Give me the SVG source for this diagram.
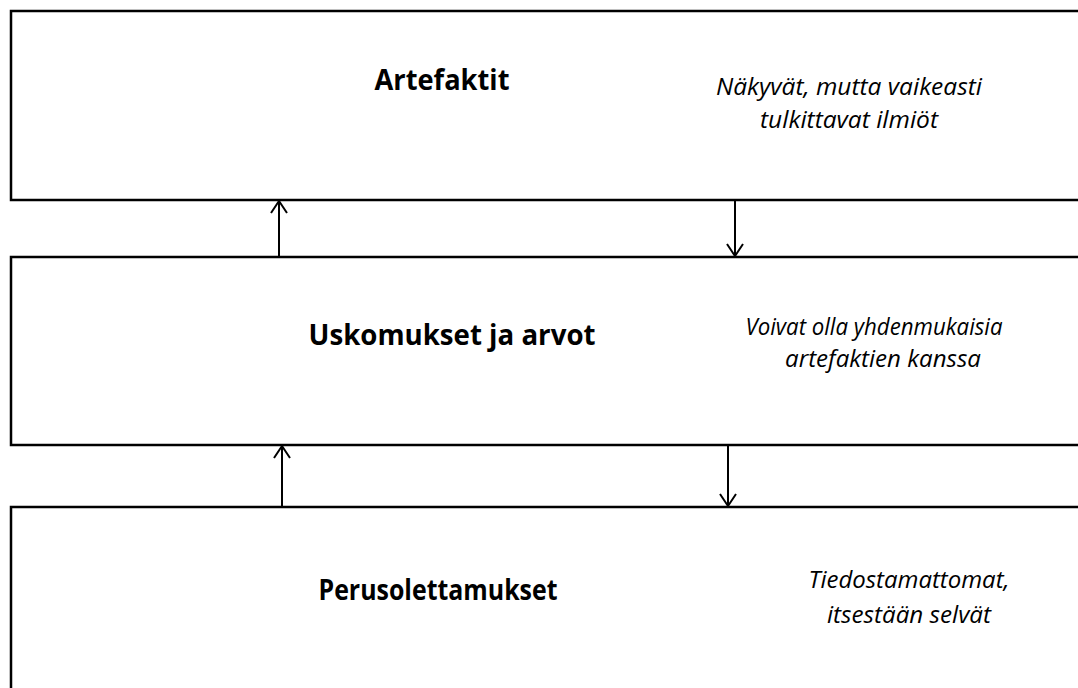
<svg xmlns="http://www.w3.org/2000/svg" width="1078" height="688" viewBox="0 0 1078 688">
<style>
.box{fill:#fff;stroke:#000;stroke-width:2.5}
.title{font-family:"Open Sans","Liberation Sans",sans-serif;font-weight:bold;font-size:29px;text-anchor:middle;fill:#000}
.note{font-family:"Open Sans","Liberation Sans",sans-serif;font-style:italic;font-size:23px;text-anchor:middle;fill:#000}
.conn{stroke:#000;stroke-width:2;fill:none}
.head{stroke:#000;stroke-width:2;fill:none}
</style>
<rect width="1078" height="688" fill="#fff"/>
<g id="artefaktit">
<rect class="box" x="11" y="11" width="1100" height="189"/>
<text class="title" x="442" y="90" textLength="135" lengthAdjust="spacingAndGlyphs">Artefaktit</text>
<text class="note" x="849" y="95" textLength="266" lengthAdjust="spacingAndGlyphs">Näkyvät, mutta vaikeasti</text>
<text class="note" x="849" y="128" textLength="178" lengthAdjust="spacingAndGlyphs">tulkittavat ilmiöt</text>
</g>
<g id="uskomukset">
<rect class="box" x="11" y="257" width="1100" height="188"/>
<text class="title" x="452" y="345" textLength="287" lengthAdjust="spacingAndGlyphs">Uskomukset ja arvot</text>
<text class="note" x="874" y="335" textLength="257" lengthAdjust="spacingAndGlyphs">Voivat olla yhdenmukaisia</text>
<text class="note" x="883" y="367" textLength="196" lengthAdjust="spacingAndGlyphs">artefaktien kanssa</text>
</g>
<g id="perusolettamukset">
<rect class="box" x="11" y="507" width="1100" height="200"/>
<text class="title" x="438" y="600" textLength="239" lengthAdjust="spacingAndGlyphs">Perusolettamukset</text>
<text class="note" x="909" y="588" textLength="201" lengthAdjust="spacingAndGlyphs">Tiedostamattomat,</text>
<text class="note" x="909" y="623" textLength="164" lengthAdjust="spacingAndGlyphs">itsestään selvät</text>
</g>
<g id="connectors">
<line class="conn" x1="279" y1="257" x2="279" y2="201"/>
<polyline class="head" points="271,213 279,201 287,213"/>
<line class="conn" x1="735" y1="200" x2="735" y2="256"/>
<polyline class="head" points="727,244 735,256 743,244"/>
<line class="conn" x1="282" y1="507" x2="282" y2="446"/>
<polyline class="head" points="274,458 282,446 290,458"/>
<line class="conn" x1="728" y1="445" x2="728" y2="506"/>
<polyline class="head" points="720,494 728,506 736,494"/>
</g>
</svg>
